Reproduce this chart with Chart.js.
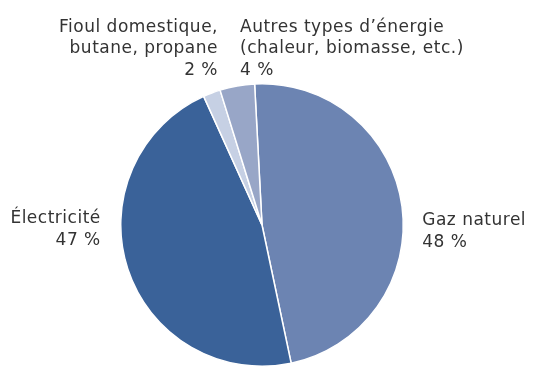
<!DOCTYPE html>
<html>
<head>
<meta charset="utf-8">
<script src="https://cdn.jsdelivr.net/npm/chart.js@4"></script>
<style>
  html, body { margin: 0; padding: 0; background: #fff; }
  #wrap { width: 536px; height: 367px; position: relative; }
</style>
</head>
<body>
<div id="wrap"><canvas id="myChart"></canvas></div>
<script>
// data
var categories = ['Gaz naturel', 'Électricité', 'Fioul domestique, butane, propane', 'Autres types d’énergie (chaleur, biomasse, etc.)'];
var label_lines = [
    ['Gaz naturel'],
    ['Électricité'],
    ['Fioul domestique,', 'butane, propane'],
    ['Autres types d’énergie', '(chaleur, biomasse, etc.)']
];
var values = [48, 47, 2, 4];
var colors = ['#6c84b2', '#3a6299', '#c6d0e4', '#98a6c7'];

// where each label sits, relative to the pie (dx, dy from centre/top, align)
var label_pos = [
    {side: 'right', dx: 19, dy: 0, align: 'left'},
    {side: 'left', dx: -20, dy: -2, align: 'right'},
    {side: 'top', dx: -44, dy: -52, align: 'right'},
    {side: 'top', dx: -22, dy: -52, align: 'left'}
];

const labelPlugin = {
    id: 'outLabels',
    afterDatasetsDraw(chart) {
        const ctx = chart.ctx;
        const arc = chart.getDatasetMeta(0).data[0];
        const cx = arc.x, cy = arc.y, r = arc.outerRadius;
        ctx.save();
        ctx.font = '17px "DejaVu Sans"';
        ctx.letterSpacing = '0.5px';
        ctx.fillStyle = '#333333';
        ctx.textBaseline = 'alphabetic';
        for (let i = 0; i < categories.length; i++) {
            let p = label_pos[i];
            let x, y;
            if (p.side == 'right') { x = cx + r + p.dx; y = cy + p.dy; }
            else if (p.side == 'left') { x = cx - r + p.dx; y = cy + p.dy; }
            else { x = cx + p.dx; y = cy - r + p.dy; }
            ctx.textAlign = p.align;
            let lines = label_lines[i].concat([values[i] + ' %']);
            for (let j = 0; j < lines.length; j++) {
                ctx.fillText(lines[j], x, y + j * 21.5);
            }
        }
        ctx.restore();
    }
};

const ctx = document.getElementById('myChart');
new Chart(ctx, {
    type: 'pie',
    data: {
        labels: categories,
        datasets: [{
            data: values,
            backgroundColor: colors,
            borderColor: '#ffffff',
            borderWidth: 1.5
        }]
    },
    options: {
        responsive: true,
        maintainAspectRatio: false,
        animation: false,
        rotation: -3,
        layout: { padding: { top: 83, bottom: -1, left: 120, right: 132 } },
        plugins: {
            legend: { display: false },
            tooltip: { enabled: false }
        }
    },
    plugins: [labelPlugin]
});
</script>
</body>
</html>
